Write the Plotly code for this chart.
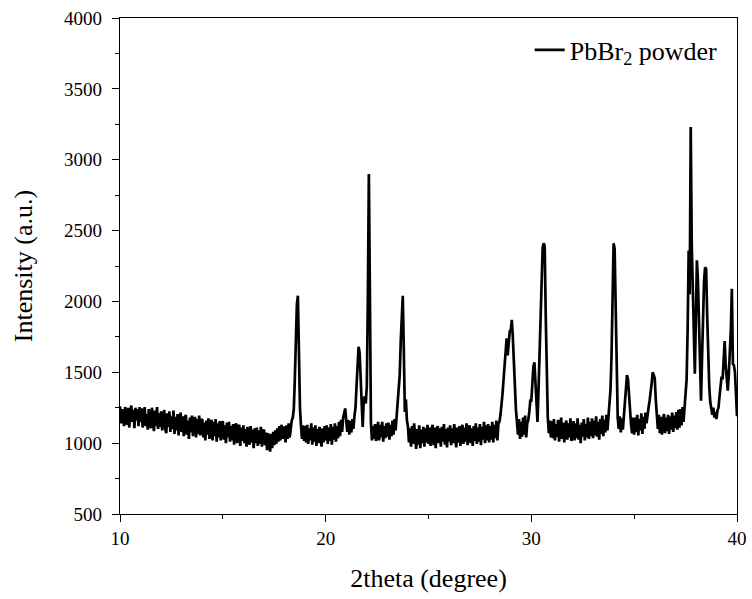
import numpy as np
import plotly.graph_objects as go

# 2theta grid, 0.05 deg step from 10 to 40
two_theta = np.round(np.arange(10.0, 40.0001, 0.05), 2)

# intensity, one row per degree (x = d.00 ... d.95)
intensity = [
    1260, 1140, 1240, 1170, 1120, 1255, 1190, 1130, 1250, 1110, 1220, 1265, 1150, 1235, 1105, 1250, 1160, 1240, 1120, 1255,  # 10
    1150, 1245, 1110, 1220, 1255, 1120, 1205, 1095, 1240, 1145, 1105, 1250, 1170, 1085, 1230, 1120, 1255, 1100, 1210, 1115,  # 11
    1225, 1090, 1180, 1235, 1100, 1070, 1210, 1115, 1225, 1080, 1190, 1100, 1230, 1065, 1185, 1090, 1205, 1055, 1170, 1215,  # 12
    1080, 1190, 1050, 1170, 1200, 1060, 1160, 1030, 1180, 1075, 1195, 1050, 1150, 1185, 1040, 1170, 1065, 1195, 1055, 1160,  # 13
    1170, 1040, 1145, 1020, 1160, 1060, 1175, 1030, 1135, 1165, 1020, 1150, 1050, 1170, 1010, 1140, 1040, 1155, 1020, 1130,  # 14
    1155, 1025, 1125, 1000, 1145, 1040, 1150, 1010, 1120, 1020, 1135, 990, 1115, 1140, 1000, 1105, 1130, 980, 1110, 1015,    # 15
    1125, 1000, 1100, 975, 1115, 1015, 990, 1120, 1005, 1095, 965, 1105, 1000, 1110, 980, 1090, 995, 1115, 975, 1080,        # 16
    1095, 985, 1075, 950, 1070, 975, 940, 1065, 965, 1080, 985, 1090, 995, 1105, 1010, 1120, 1020, 1130, 1030, 1110,         # 17
    1110, 1005, 1125, 1030, 1140, 1040, 1130, 1160, 1180, 1240, 1450, 1720, 1980, 2040, 1600, 1250, 1120, 1030, 1125, 1015,  # 18
    1120, 1005, 1130, 995, 1105, 1020, 1140, 990, 1110, 1010, 1125, 980, 1100, 1000, 1115, 1015, 975, 1105, 1005, 1120,      # 19
    1020, 1125, 995, 1110, 1015, 1135, 990, 1115, 1025, 1140, 1010, 1120, 1035, 1150, 1050, 1165, 1080, 1180, 1210, 1245,    # 20
    1160, 1080, 1165, 1060, 1155, 1075, 1170, 1100, 1190, 1250, 1400, 1560, 1680, 1640, 1420, 1200, 1115, 1300, 1330, 1280,  # 21
    1400, 2000, 2900, 2080, 1150, 1020, 1120, 1030, 1135, 1015, 1115, 1150, 1020, 1130, 1040, 1150, 1010, 1120, 1035, 1140,  # 22
    1045, 1145, 1025, 1130, 1050, 1160, 1060, 1170, 1090, 1190, 1230, 1330, 1480, 1720, 1950, 2040, 1650, 1220, 1310, 1160,  # 23
    1120, 1005, 1105, 975, 1120, 995, 1140, 1010, 960, 1100, 990, 1125, 965, 1095, 1000, 1115, 975, 1105, 1005, 1130,        # 24
    995, 1110, 980, 1095, 1130, 985, 1110, 965, 1090, 1120, 1000, 1105, 975, 1115, 1010, 1135, 990, 1100, 970, 1110,         # 25
    1010, 1125, 985, 1105, 1000, 1135, 1015, 970, 1110, 1005, 1120, 980, 1095, 1130, 995, 1110, 1010, 1140, 985, 1100,       # 26
    1125, 1000, 1105, 980, 1120, 1015, 1140, 995, 1110, 1010, 1135, 985, 1115, 1025, 1150, 1000, 1125, 1020, 1135, 1005,     # 27
    1120, 1025, 1150, 1005, 1130, 1035, 1160, 1020, 1140, 1150, 1200, 1260, 1350, 1450, 1560, 1650, 1740, 1620, 1700, 1790,  # 28
    1800, 1870, 1750, 1560, 1400, 1240, 1150, 1060, 1170, 1030, 1150, 1045, 1180, 1060, 1195, 1040, 1140, 1160, 1220, 1300,  # 29
    1300, 1420, 1540, 1570, 1450, 1250, 1150, 1380, 1650, 1950, 2250, 2380, 2410, 2390, 1900, 1400, 1180, 1070, 1160, 1040,  # 30
    1155, 1035, 1170, 1020, 1135, 1045, 1165, 1010, 1130, 1180, 1030, 1145, 1005, 1125, 1160, 1025, 1140, 1040, 1175, 1015,  # 31
    1125, 1155, 1020, 1140, 1035, 1175, 1025, 1130, 1000, 1145, 1045, 1170, 1020, 1135, 1040, 1180, 1030, 1150, 1050, 1175,  # 32
    1035, 1160, 1055, 1190, 1045, 1150, 1025, 1170, 1065, 1195, 1050, 1165, 1075, 1200, 1090, 1180, 1250, 1380, 1620, 2000,  # 33
    2410, 2370, 1850, 1350, 1180, 1100, 1190, 1075, 1175, 1095, 1200, 1280, 1400, 1480, 1450, 1330, 1220, 1130, 1070, 1180,  # 34
    1060, 1180, 1080, 1200, 1055, 1170, 1090, 1210, 1065, 1185, 1100, 1215, 1140, 1220, 1250, 1300, 1350, 1420, 1500, 1480,  # 35
    1460, 1310, 1190, 1100, 1200, 1070, 1185, 1060, 1165, 1205, 1070, 1180, 1085, 1200, 1065, 1190, 1095, 1215, 1080, 1195,  # 36
    1105, 1220, 1095, 1235, 1110, 1240, 1125, 1255, 1150, 1260, 1300, 1450, 1800, 2360, 2050, 3230, 2400, 2030, 1850, 1490,  # 37
    1880, 2290, 2150, 1800, 1550, 1300, 1600, 1920, 2150, 2240, 2230, 1900, 1580, 1400, 1290, 1240, 1200, 1250, 1180, 1220,  # 38
    1170, 1230, 1250, 1330, 1400, 1470, 1450, 1580, 1720, 1550, 1450, 1370, 1480, 1620, 1800, 2090, 1560, 1550, 1500, 1350,  # 39
    1190,  # 40
]

x_ticks = [10, 20, 30, 40]
y_ticks = [500, 1000, 1500, 2000, 2500, 3000, 3500, 4000]

font = "Liberation Serif"

fig = go.Figure()
fig.add_trace(go.Scatter(
    x=two_theta, y=intensity, mode="lines",
    line=dict(color="black", width=2.7),
    name="PbBr<sub>2</sub> powder",
))

axis_common = dict(
    showline=True, linecolor="black", linewidth=1.3, mirror=True,
    showgrid=False, zeroline=False, automargin=False,
    ticks="outside", ticklen=7, tickwidth=1.3, tickcolor="black",
    tickfont=dict(family=font, size=19, color="black"),
    ticklabeloverflow="allow",
)

fig.update_xaxes(
    range=[10, 40], tickvals=x_ticks,
    minor=dict(ticks="outside", ticklen=4, tickwidth=1.3, tickcolor="black", dtick=5, tick0=10),
    title=dict(text="2theta (degree)", font=dict(family=font, size=26, color="black"), standoff=20),
    **axis_common,
)
fig.update_yaxes(
    range=[500, 4000], tickvals=y_ticks, ticklabelstandoff=6,
    minor=dict(ticks="outside", ticklen=4, tickwidth=1.3, tickcolor="black", dtick=250, tick0=500),
    title=dict(text="Intensity (a.u.)", font=dict(family=font, size=26, color="black"), standoff=23),
    **axis_common,
)

fig.update_layout(
    width=752, height=599,
    margin=dict(l=120, r=15, t=18, b=85),
    paper_bgcolor="white", plot_bgcolor="white",
    font=dict(family=font, color="black"),
    showlegend=True,
    legend=dict(
        x=0.664, y=0.983, xanchor="left", yanchor="top",
        bgcolor="rgba(0,0,0,0)", borderwidth=0,
        font=dict(family=font, size=26, color="black"),
    ),
)

# drop the default 8px page margin so the figure sits at the window corner
fig.write_html("out.html", config={"displayModeBar": False},
               post_script="document.body.style.margin = '0';")
